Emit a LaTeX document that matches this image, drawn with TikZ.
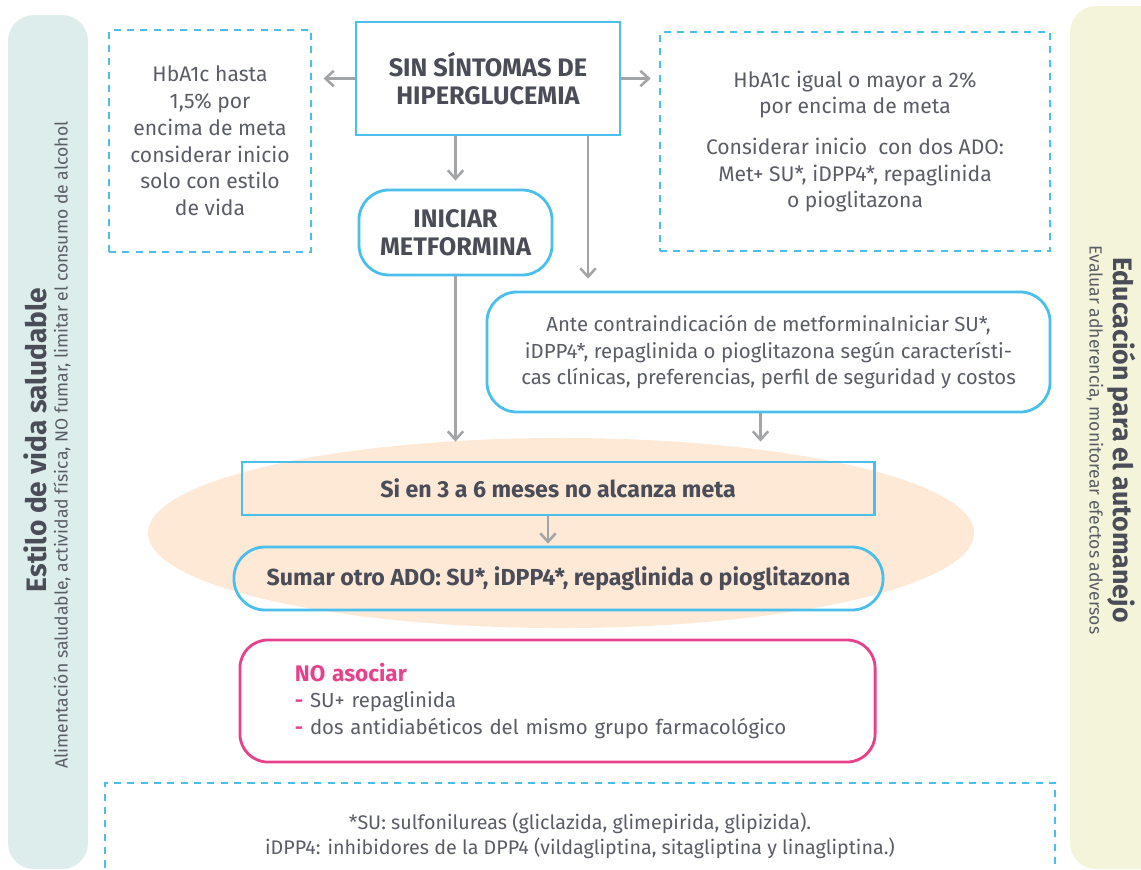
\documentclass[tikz,border=0pt]{standalone}
\usepackage{fontspec}
\setmainfont{Fira Sans}
\usepackage{xcolor}
\usetikzlibrary{arrows.meta, positioning, shapes.geometric}
\definecolor{celeste}{HTML}{4BBFEC}
\definecolor{gris}{HTML}{A3A4A6}
\definecolor{tinta}{HTML}{4A4C57}
\definecolor{texto}{HTML}{5A5C66}
\definecolor{rosa}{HTML}{E8418C}
\definecolor{durazno}{HTML}{FDE9D6}
\definecolor{verdeagua}{HTML}{DDEDEB}
\definecolor{crema}{HTML}{F3F4D9}
\tikzstyle{dashbox} = [rectangle, draw=celeste, line width=1.8pt, dash pattern=on 5pt off 4.5pt, text=texto, align=center, font=\fontsize{15}{19}\selectfont]
\tikzstyle{block} = [rectangle, draw=celeste, line width=2pt, text=tinta, align=center]
\tikzstyle{roundblock} = [block, rounded corners=0.75cm]
\tikzstyle{arrow} = [draw=gris, line width=1.8pt, -{Straight Barb[length=6pt,width=11pt]}]

\begin{document}
\begin{tikzpicture}[x=0.025cm, y=-0.025cm]
\useasboundingbox (0,0) rectangle (1141,869);
\clip (0,0) rectangle (1141,869);
\fill [verdeagua, rounded corners=0.65cm] (8,15) rectangle (88,869);
\fill [crema, rounded corners=0.65cm] (1070,6) rectangle (1180,869);
\fill [durazno] (561,533) ellipse [x radius=10.325cm, y radius=2.375cm];

\node (estilo) [rotate=90, text=tinta, font=\fontsize{20}{22}\bfseries] at (35,440) {Estilo de vida saludable};
\node (habitos) [rotate=90, text=texto, font=\fontsize{12.5}{14}\selectfont] at (62,445) {Alimentación saludable, actividad física, NO fumar, limitar el consumo de alcohol};
\node (educ) [rotate=-90, text=tinta, font=\fontsize{19}{21}\bfseries] at (1122,440) {Educación para el automanejo};
\node (evaluar) [rotate=-90, text=texto, font=\fontsize{12.5}{14}\selectfont] at (1095,440) {Evaluar adherencia, monitorear efectos adversos};

\node (hba) [dashbox, minimum width=5.05cm, minimum height=5.55cm] at (210,141) {HbA1c hasta\\1,5\% por\\encima de meta\\considerar inicio\\solo con estilo\\de vida};
\node (sin) [block, minimum width=6.6cm, minimum height=2.825cm, font=\fontsize{18}{20}\bfseries] at (488,78.5) {SIN SÍNTOMAS DE\\HIPERGLUCEMIA};
\node (metas) [dashbox, minimum width=9.75cm, minimum height=5.475cm] at (855,141.5) {HbA1c igual o mayor a 2\%\\por encima de meta\\[3.5mm]Considerar inicio\ \ con dos ADO:\\Met+ SU*, iDPP4*, repaglinida\\o pioglitazona};
\node (ini) [roundblock, minimum width=4.825cm, minimum height=2.125cm, font=\fontsize{18}{20}\bfseries] at (455.5,232.5) {INICIAR\\METFORMINA};
\node (contra) [block, rounded corners=0.75cm, text=texto, minimum width=14.075cm, minimum height=3cm, font=\fontsize{14.5}{19}\selectfont] at (768.5,352) {Ante contraindicación de metforminaIniciar SU*,\\iDPP4*, repaglinida o pioglitazona según característi-\\cas clínicas, preferencias, perfil de seguridad y costos};
\node (sien) [block, minimum width=15.8cm, minimum height=1.325cm, font=\fontsize{16.5}{18}\bfseries] at (558,488.5) {Si en 3 a 6 meses no alcanza meta};
\node (sumar) [block, rounded corners=0.78cm, minimum width=16.225cm, minimum height=1.575cm, font=\fontsize{16.5}{18}\bfseries] at (558.5,578.5) {Sumar otro ADO: SU*, iDPP4*, repaglinida o pioglitazona};
\node (noasoc) [block, draw=rosa, rounded corners=0.7cm, text=texto, minimum width=15.875cm, minimum height=3.05cm, align=left, text width=13.125cm, font=\fontsize{14.5}{19}\selectfont] at (557.5,701) {{\color{rosa}\fontsize{16}{19}\bfseries NO asociar}\\{\color{rosa}\bfseries -} SU+ repaglinida\\{\color{rosa}\bfseries -} dos antidiabéticos del mismo grupo farmacológico};
\node (notas) [dashbox, minimum width=23.75cm, minimum height=2.65cm, font=\fontsize{14}{18}\selectfont] at (580,836) {*SU: sulfonilureas (gliclazida, glimepirida, glipizida).\\iDPP4: inhibidores de la DPP4 (vildagliptina, sitagliptina y linagliptina.)};

\draw [arrow, shorten >=0.28cm] (sin.west) -- (sin.west -| hba.east);
\draw [arrow, shorten >=0.2cm] (sin.east) -- (sin.east -| metas.west);
\draw [arrow, shorten >=0.2cm] (ini.north |- sin.south) -- (ini.north);
\draw [arrow, shorten >=0.3cm] ([xshift=2.5cm]sin.south) -- ([xshift=2.5cm]sin.south |- contra.north);
\draw [arrow, shorten >=0.475cm] (ini.south) -- (ini.south |- sien.north);
\draw [arrow, shorten >=0.475cm] ([xshift=-0.2cm]contra.south) -- ([xshift=-0.2cm]contra.south |- sien.north);
\draw [arrow, shorten >=0.05cm] ([xshift=-0.25cm]sien.south) -- ([xshift=-0.25cm]sien.south |- sumar.north);
\end{tikzpicture}
\end{document}
